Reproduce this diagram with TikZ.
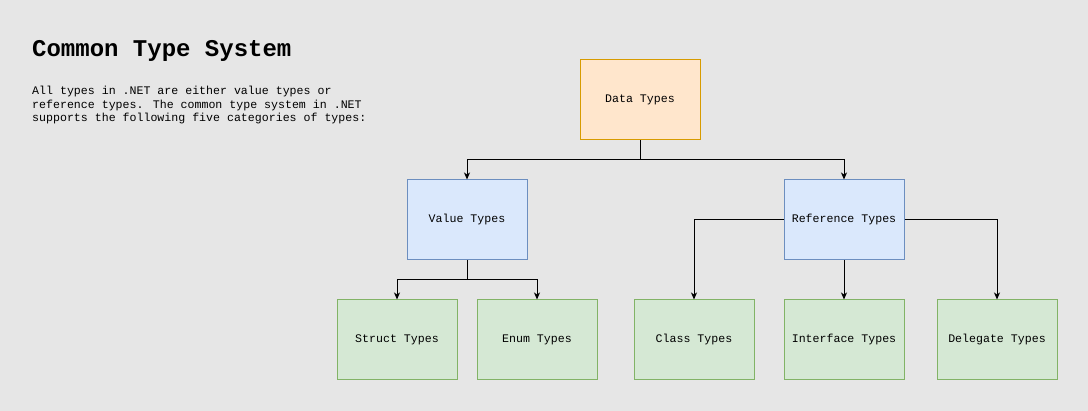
\documentclass[tikz,border=0pt]{standalone}
\usepackage{fontspec}
\setmainfont{Liberation Mono}
\usetikzlibrary{arrows.meta}
\definecolor{bgc}{HTML}{E6E6E6}
\definecolor{orfill}{HTML}{FFE6CC}
\definecolor{ordraw}{HTML}{D79B00}
\definecolor{blfill}{HTML}{DAE8FC}
\definecolor{bldraw}{HTML}{6C8EBF}
\definecolor{grfill}{HTML}{D5E8D4}
\definecolor{grdraw}{HTML}{82B366}
\tikzset{
  box/.style={draw, line width=1pt, minimum width=120pt, minimum height=80pt, inner sep=0pt,
    font=\fontsize{11.6}{13.5}\selectfont},
  orbox/.style={box, fill=orfill, draw=ordraw},
  blbox/.style={box, fill=blfill, draw=bldraw},
  grbox/.style={box, fill=grfill, draw=grdraw},
  conn/.style={draw=black, line width=1pt, -{Stealth[length=7pt,width=6pt,inset=2pt]}},
  plain/.style={draw=black, line width=1pt}
}
\begin{document}
\begin{tikzpicture}[x=1pt,y=-1pt]
\fill[bgc] (0,0) rectangle (1088,411);
\useasboundingbox (0,0) rectangle (1088,411);
\node[anchor=base west, inner sep=0pt, font=\fontsize{24}{28}\selectfont\bfseries] (title) at (32,57) {Common Type System};
\node[anchor=north west, inner sep=0pt, align=left, font=\fontsize{11.6}{13.5}\selectfont] (desc) at (32,86) {All types in .NET are either value types or\\reference types. The common type system in .NET\\supports the following five categories of types:};

\node[orbox] (data) at (640,100) {Data Types};
\node[blbox] (value) at (467,220) {Value Types};
\node[blbox] (ref) at (844,220) {Reference Types};
\node[grbox] (struct) at (397,340) {Struct Types};
\node[grbox] (enum) at (537,340) {Enum Types};
\node[grbox] (class) at (694,340) {Class Types};
\node[grbox] (iface) at (844,340) {Interface Types};
\node[grbox] (deleg) at (997,340) {Delegate Types};

\coordinate (j1) at (640,160);
\coordinate (j2) at (467,280);
\draw[plain] (data.south) -- (j1);
\draw[conn] (j1) -| (value.north);
\draw[conn] (j1) -| (ref.north);
\draw[plain] (value.south) -- (j2);
\draw[conn] (j2) -| (struct.north);
\draw[conn] (j2) -| (enum.north);
\draw[conn] (ref.west) -| (class.north);
\draw[conn] (ref.south) -- (iface.north);
\draw[conn] (ref.east) -| (deleg.north);
\end{tikzpicture}
\end{document}
